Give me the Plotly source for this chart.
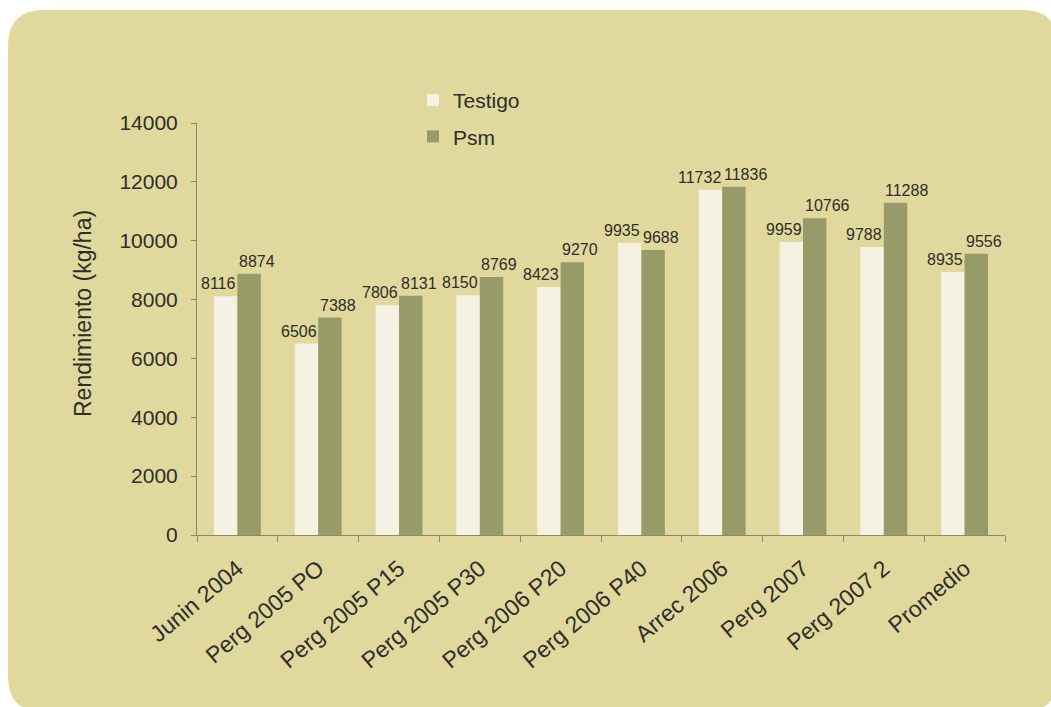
import plotly.graph_objects as go

# Rendimiento por ensayo: testigo vs. tratamiento Psm
categories = ["Junin 2004", "Perg 2005 PO", "Perg 2005 P15", "Perg 2005 P30",
              "Perg 2006 P20", "Perg 2006 P40", "Arrec 2006", "Perg 2007",
              "Perg 2007 2", "Promedio"]
testigo = [8116, 6506, 7806, 8150, 8423, 9935, 11732, 9959, 9788, 8935]
psm = [8874, 7388, 8131, 8769, 9270, 9688, 11836, 10766, 11288, 9556]
y_ticks = [0, 2000, 4000, 6000, 8000, 10000, 12000, 14000]

W, H = 1051, 707
ML, MR, MT, MB = 197, 46, 123, 172
PW, PH = W - ML - MR, H - MT - MB

FONT = "Arial, Liberation Sans, sans-serif"
TXT = "#2e2e2a"
AXIS = "#8c8a6c"
C_TESTIGO = "#f5f2e3"
C_PSM = "#979b68"


def px(x):
    return (x - ML) / PW


def py(y):
    return (H - MB - y) / PH


# rounded khaki panel behind the chart
x0, y0, x1, y1, r = 8, 10, 1058, 712, 36
pts = [
    f"M {px(x0 + r)},{py(y0)}",
    f"L {px(x1 - r)},{py(y0)}",
    f"Q {px(x1)},{py(y0)} {px(x1)},{py(y0 + r)}",
    f"L {px(x1)},{py(y1 - r)}",
    f"Q {px(x1)},{py(y1)} {px(x1 - r)},{py(y1)}",
    f"L {px(x0 + r)},{py(y1)}",
    f"Q {px(x0)},{py(y1)} {px(x0)},{py(y1 - r)}",
    f"L {px(x0)},{py(y0 + r)}",
    f"Q {px(x0)},{py(y0)} {px(x0 + r)},{py(y0)}",
    "Z",
]
panel_path = " ".join(pts)

fig = go.Figure()
fig.add_trace(go.Bar(
    name="Testigo", x=categories, y=testigo,
    marker=dict(color=C_TESTIGO, line=dict(width=0)),
    legendgroup="a",
))
fig.add_trace(go.Bar(
    name="Psm", x=categories, y=psm,
    marker=dict(color=C_PSM, line=dict(width=0)),
    legendgroup="b",
))

# value labels above each bar: Testigo labels end at the category centre,
# Psm labels start just right of it, so neighbouring labels never collide
annotations = []
for series, anchor, dx in ((testigo, "right", -1.5), (psm, "left", 1.5)):
    for cat, val in zip(categories, series):
        annotations.append(dict(
            x=cat, y=val, xref="x", yref="y", text=str(val),
            showarrow=False, xanchor=anchor, yanchor="bottom",
            xshift=dx, yshift=4, borderpad=0, borderwidth=0,
            font=dict(family=FONT, size=16, color=TXT),
        ))

# y-axis title
annotations.append(dict(
    x=px(83), y=py(314), xref="paper", yref="paper",
    text="Rendimiento (kg/ha)", textangle=-90, showarrow=False,
    xanchor="center", yanchor="middle",
    font=dict(family=FONT, size=23, color=TXT),
))

fig.update_layout(
    width=W, height=H,
    margin=dict(l=ML, r=MR, t=MT, b=MB, pad=0),
    paper_bgcolor="white",
    plot_bgcolor="rgba(0,0,0,0)",
    barmode="group", bargap=0.42, bargroupgap=0,
    font=dict(family=FONT, size=21, color=TXT),
    shapes=[dict(type="path", xref="paper", yref="paper", path=panel_path,
                 fillcolor="#e0d89c", line=dict(width=0), layer="below")],
    annotations=annotations,
    legend=dict(
        x=px(413), y=py(80), xanchor="left", yanchor="top",
        bgcolor="rgba(0,0,0,0)", tracegroupgap=6,
        font=dict(family=FONT, size=21, color=TXT),
    ),
    xaxis=dict(
        showline=True, linecolor=AXIS, linewidth=1,
        ticks="outside", tickson="boundaries", ticklen=6, tickcolor=AXIS,
        tickangle=-40, tickfont=dict(family=FONT, size=23, color=TXT),
        ticklabelstandoff=10,
        showgrid=False, zeroline=False,
    ),
    yaxis=dict(
        range=[0, 14000], tickvals=y_ticks, ticktext=[str(v) for v in y_ticks],
        showline=True, linecolor=AXIS, linewidth=1,
        ticks="outside", ticklen=5, tickcolor=AXIS,
        tickfont=dict(family=FONT, size=21, color=TXT),
        ticklabelstandoff=9,
        showgrid=False, zeroline=False,
    ),
)

fig.write_html("out.html")
